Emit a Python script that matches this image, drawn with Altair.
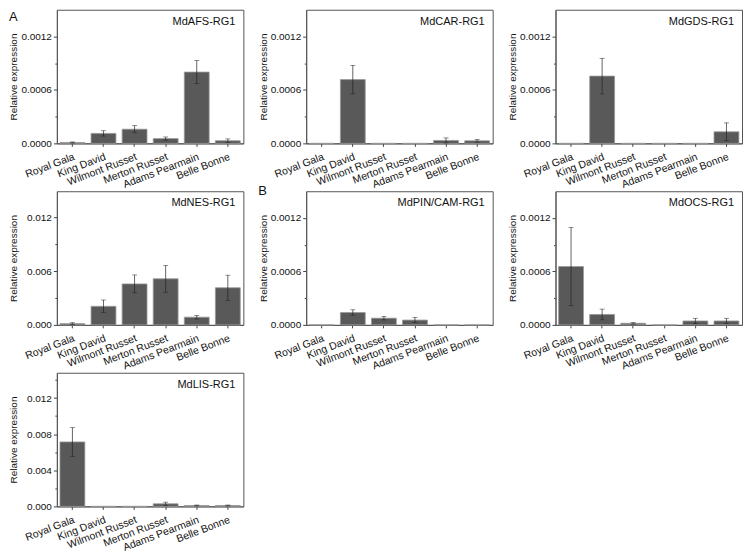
import altair as alt
import pandas as pd

cultivars = ["Royal Gala", "King David", "Wilmont Russet", "Merton Russet",
             "Adams Pearmain", "Belle Bonne"]
genes = ["MdAFS-RG1", "MdCAR-RG1", "MdGDS-RG1", "MdNES-RG1",
         "MdPIN/CAM-RG1", "MdOCS-RG1", "MdLIS-RG1"]
panel_letters = ["A", "", "", "", "B", "", ""]

afs_mean = [0.000010, 0.000112, 0.000159, 0.000054, 0.000800, 0.000030]
afs_err = [0.000006, 0.000030, 0.000040, 0.000018, 0.000130, 0.000020]
car_mean = [0.0, 0.000716, 0.0, 0.0, 0.000033, 0.000029]
car_err = [0.0, 0.000160, 0.0, 0.0, 0.000028, 0.000015]
gds_mean = [0.0, 0.000755, 0.0, 0.0, 0.0, 0.000130]
gds_err = [0.0, 0.000200, 0.0, 0.0, 0.0, 0.000100]
nes_mean = [0.00014, 0.00207, 0.00457, 0.00514, 0.00086, 0.00414]
nes_err = [0.00010, 0.00070, 0.00100, 0.00150, 0.00020, 0.00140]
pin_mean = [0.0, 0.000139, 0.000075, 0.000054, 0.0, 0.0]
pin_err = [0.0, 0.000030, 0.000020, 0.000030, 0.0, 0.0]
ocs_mean = [0.000655, 0.000117, 0.000018, 0.0, 0.000044, 0.000044]
ocs_err = [0.000440, 0.000060, 0.000010, 0.0, 0.000030, 0.000030]
lis_mean = [0.00714, 0.0, 0.0, 0.00029, 0.00010, 0.00010]
lis_err = [0.00160, 0.0, 0.0, 0.00018, 0.00005, 0.00005]

means = [afs_mean, car_mean, gds_mean, nes_mean, pin_mean, ocs_mean, lis_mean]
errs = [afs_err, car_err, gds_err, nes_err, pin_err, ocs_err, lis_err]

# y-axis settings per panel: (max, major step, tick values, format)
small_ticks = [0.0, 0.0003, 0.0006, 0.0009, 0.0012]
nes_ticks = [0.0, 0.003, 0.006, 0.009, 0.012]
lis_ticks = [0.0, 0.002, 0.004, 0.006, 0.008, 0.010, 0.012, 0.014]
yset = [
    (0.0015, 0.0006, small_ticks, ".4f"),
    (0.0015, 0.0006, small_ticks, ".4f"),
    (0.0015, 0.0006, small_ticks, ".4f"),
    (0.0149, 0.006, nes_ticks, ".3f"),
    (0.0015, 0.0006, small_ticks, ".4f"),
    (0.0015, 0.0006, small_ticks, ".4f"),
    (0.0148, 0.004, lis_ticks, ".3f"),
]

W, H = 187, 134
FONT = "Liberation Sans, Arial, Helvetica, sans-serif"
BAR_FILL = "#595959"
BAR_STROKE = "#999999"
ERR_COLOR = "#222222"


def panel(i):
    ymax, step, tick_vals, fmt = yset[i]
    df = pd.DataFrame({
        "cultivar": cultivars,
        "mean": means[i],
        "err": errs[i],
    })
    df["lo"] = df["mean"] - df["err"]
    df["hi"] = df["mean"] + df["err"]

    major = f"abs(datum.value/{step} - round(datum.value/{step})) < 1e-6"
    yaxis = alt.Axis(
        values=tick_vals,
        labelExpr=f"{major} ? format(datum.value, '{fmt}') : ''",
        tickSize={"condition": {"test": major, "value": 3.5}, "value": 2},
        minExtent=34, maxExtent=34, titlePadding=4,
    )
    yscale = alt.Scale(domain=[0, ymax], nice=False, zero=True)
    xaxis = alt.Axis(title=None, labelAngle=-21, tickSize=3, labelPadding=5,
                     labelLimit=200, labelFontSize=10.5)
    xenc = alt.X("cultivar:N", sort=cultivars, axis=xaxis,
                 scale=alt.Scale(paddingInner=0.2, paddingOuter=0.1))

    def Y(field):
        return alt.Y(f"{field}:Q", title="Relative expression",
                     axis=yaxis, scale=yscale)

    base = alt.Chart(df)
    bars = base.mark_bar(fill=BAR_FILL, stroke=BAR_STROKE,
                         strokeWidth=0.8).encode(x=xenc, y=Y("mean"))
    eb = base.transform_filter("datum.err > 0")
    whisk = eb.mark_rule(color=ERR_COLOR, strokeWidth=0.7).encode(
        x=xenc, y=Y("lo"), y2="hi:Q")
    cap_lo = eb.mark_tick(color=ERR_COLOR, size=5, thickness=0.7).encode(
        x=xenc, y=Y("lo"))
    cap_hi = eb.mark_tick(color=ERR_COLOR, size=5, thickness=0.7).encode(
        x=xenc, y=Y("hi"))

    title = alt.Chart(pd.DataFrame({"t": [genes[i]]})).mark_text(
        align="right", baseline="middle", fontSize=11, font=FONT,
        color="#111").encode(text="t:N", x=alt.value(W - 8),
                             y=alt.value(12))
    layers = [bars, whisk, cap_lo, cap_hi, title]
    if panel_letters[i]:
        dy = 11 if i == 0 else 4
        letter = alt.Chart(pd.DataFrame({"t": [panel_letters[i]]})).mark_text(
            align="left", baseline="alphabetic", fontSize=13, font=FONT,
            color="#111").encode(text="t:N", x=alt.value(-48),
                                 y=alt.value(dy))
        layers.append(letter)
    return alt.layer(*layers).properties(width=W, height=H)


chart = alt.concat(
    *[panel(i) for i in range(7)],
    columns=3,
    spacing={"row": 48, "column": 63},
    bounds="flush",
).properties(
    padding=0,
    background="white",
).configure_view(
    stroke="#555555", strokeWidth=1,
).configure_axis(
    labelFont=FONT, titleFont=FONT, labelFontSize=10, titleFontSize=10,
    titleFontWeight="normal", labelColor="#111", titleColor="#111",
    domainColor="#555555", tickColor="#444444", grid=False,
)

chart.save("out.html", embed_options={"renderer": "svg", "actions": False})
